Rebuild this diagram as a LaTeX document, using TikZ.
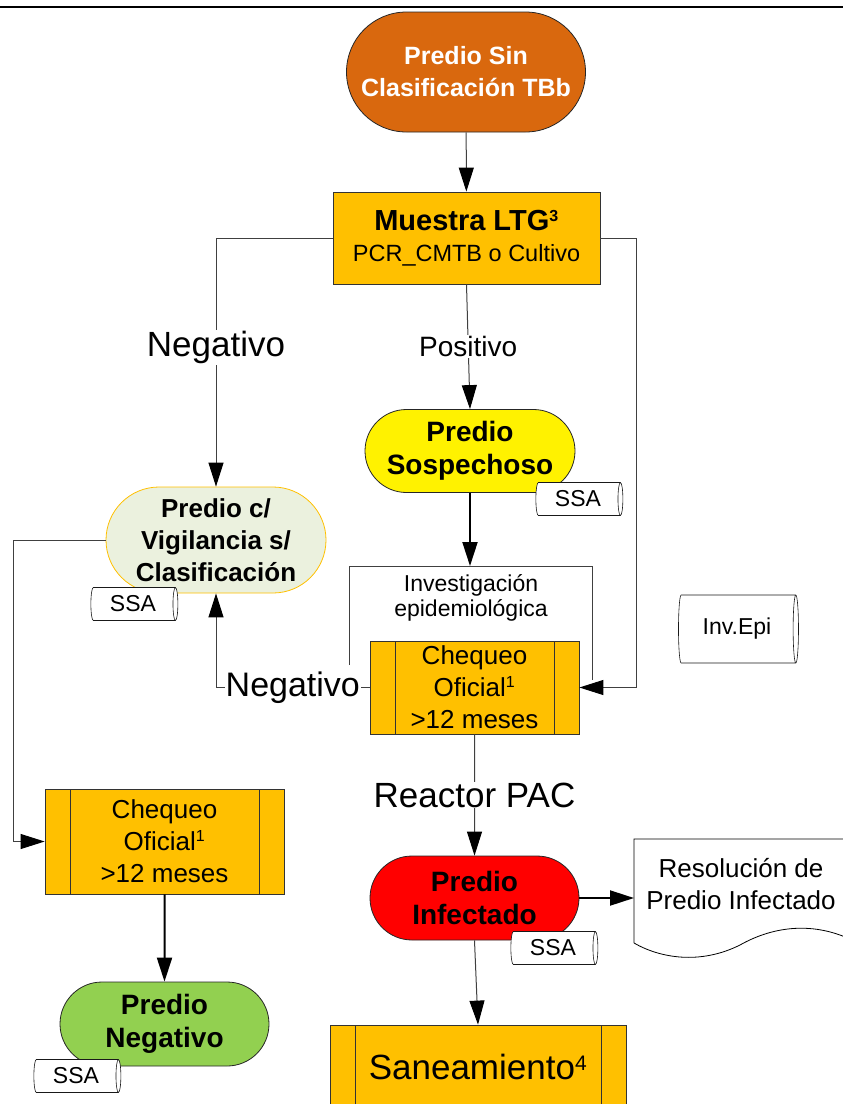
\documentclass[tikz,border=0pt]{standalone}
\usepackage{fontspec}
\setmainfont{Liberation Sans}
\usepackage{tikz}
\usetikzlibrary{arrows.meta,shapes.misc,shapes.geometric}
\definecolor{tbbrown}{RGB}{217,104,14}
\definecolor{amber}{RGB}{255,192,0}
\definecolor{vigil}{RGB}{235,241,222}
\definecolor{leafgreen}{RGB}{146,208,80}
\newcommand{\fs}[2]{\fontsize{#1}{#2}\selectfont}
\newcommand{\sups}[2]{\textsuperscript{\fs{#1}{#1}#2}}

\begin{document}
\begin{tikzpicture}[
  x=1pt, y=-1pt,
  every node/.style={inner sep=0pt, align=center},
  stadium/.style={
    rounded rectangle,
    draw=black!85,
    line width=0.8pt,
    font=\bfseries\fs{28}{33}
  },
  proc/.style={
    rectangle,
    draw=black!80,
    fill=amber,
    line width=0.8pt
  },
  subproc/.style={
    proc,
    path picture={
      \draw[black!80, line width=0.8pt]
        ([xshift=25pt]path picture bounding box.north west) -- ([xshift=25pt]path picture bounding box.south west)
        ([xshift=-25pt]path picture bounding box.north east) -- ([xshift=-25pt]path picture bounding box.south east);
    }
  },
  store/.style={
    cylinder,
    draw=black!90,
    fill=white,
    line width=0.6pt,
    aspect=0.3,
    font=\fs{23}{27}
  },
  arr/.style={draw=black!75, line width=1pt, -{Triangle[length=24pt,width=15pt,color=black]}},
  arrthick/.style={arr, draw=black, line width=2pt},
  lbl/.style={fill=white, inner sep=1pt}
]
\useasboundingbox (0,0) rectangle (843,1104);
\draw[line width=2.5pt] (0,7) -- (843,7);

% main column
\node[stadium, fill=tbbrown, text=white, minimum width=239pt, minimum height=120pt, font=\bfseries\fs{25}{32}] (start) at (466,72) {Predio Sin\\Clasificación TBb};
\node[proc, minimum width=267pt, minimum height=92pt, font=\fs{23.5}{31}] (muestra) at (466.5,238) {{\bfseries\fs{29}{31}Muestra LTG\sups{16}{3}}\\PCR\_CMTB o Cultivo};
\node[stadium, fill=yellow, minimum width=210pt, minimum height=83pt] (sospe) at (470,451) {Predio\\Sospechoso};
\node[font=\fs{23}{25}] (invest) at (471,598) {Investigación\\epidemiológica};
\coordinate (frtop) at (468,566);
\node[subproc, minimum width=209pt, minimum height=93pt, font=\fs{26}{32}] (cheq) at (474.5,687.5) {Chequeo\\Oficial\sups{16}{1}\\>12 meses};
\node[stadium, fill=red, minimum width=209pt, minimum height=84pt] (infect) at (474.5,898) {Predio\\Infectado};
\node[subproc, minimum width=296pt, minimum height=84pt, font=\fs{35}{40}] (san) at (478,1067) {Saneamiento\sups{21}{4}};

% left column
\node[stadium, draw=amber, fill=vigil, minimum width=220pt, minimum height=106pt, font=\bfseries\fs{26}{32}] (vigil) at (216,540) {Predio c/\\Vigilancia s/\\Clasificación};
\node[subproc, minimum width=239pt, minimum height=105pt, font=\fs{26}{32}] (cheqL) at (164.5,841.5) {Chequeo\\Oficial\sups{16}{1}\\>12 meses};
\node[stadium, fill=leafgreen, minimum width=209pt, minimum height=84pt] (neg) at (164.5,1024) {Predio\\Negativo};

% stores
\node[store, minimum height=87pt, minimum width=33pt] (ssaS) at (578,499) {SSA};
\node[store, minimum height=87pt, minimum width=33pt] (ssaV) at (133,604) {SSA};
\node[store, minimum height=87pt, minimum width=33pt] (ssaI) at (553,948) {SSA};
\node[store, minimum height=87pt, minimum width=33pt] (ssaN) at (76,1076) {SSA};
\node[store, aspect=0.25, minimum height=120pt, minimum width=68pt] (invepi) at (737,629) {Inv.Epi};

% document
\node[font=\fs{26}{32}] (resol) at (741,884) {Resolución de\\Predio Infectado};
\coordinate (docl) at (634,884);
\draw[line width=0.8pt] (634,943) -- (634,839) -- (852,839)
  (634,943) .. controls (660,958) and (700,965) .. (740,945)
  .. controls (770,928) and (810,920) .. (852,940);

% investigation frame
\draw[draw=black!75, line width=1pt] (349,665) |- (592,566) -- (592,680);

% connectors
\draw[arr] (start) -- (muestra);
\draw[arr] (muestra.west) -| node[lbl, pos=0.72, font=\fs{35}{40}] {Negativo} (vigil.north);
\draw[arr] (muestra.east) -- ++(36,0) |- (cheq.east);
\draw[arr] (muestra.south) -- node[lbl, font=\fs{28}{32}] {Positivo} (sospe.north);
\draw[arrthick] (sospe.south) -- (sospe.south |- frtop);
\draw[arr] (cheq.west) -| node[lbl, pos=0.25, font=\fs{34}{40}] {Negativo} (vigil.south);
\draw[arr] (vigil.west) -- ++(-92,0) |- (cheqL.west);
\draw[arrthick] (cheqL) -- (neg);
\draw[arr] (cheq) -- node[lbl, font=\fs{35}{40}] {Reactor PAC} (infect);
\draw[arrthick] (infect.east) -- (infect.east -| docl);
\draw[arr] (infect.south) -- (san.north);
\end{tikzpicture}
\end{document}
